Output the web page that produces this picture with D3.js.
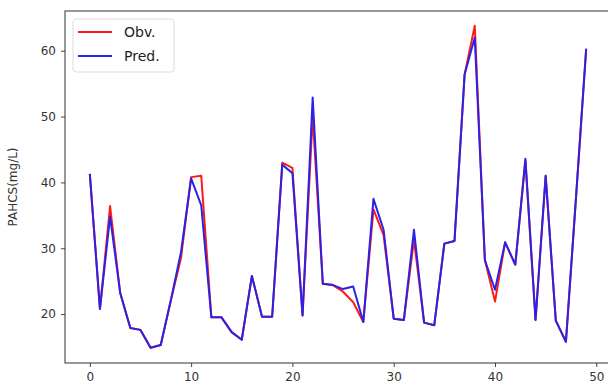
<!DOCTYPE html>
<html>
<head>
<meta charset="utf-8">
<script src="https://d3js.org/d3.v7.min.js"></script>
<style>
  body { margin: 0; background: #fff; }
  text { font-family: "DejaVu Sans", sans-serif; }
</style>
</head>
<body>
<svg id="chart" width="608" height="392"></svg>
<script>
// data (sample index 0..49)
var obv  = [41.3, 20.8, 36.4, 23.2, 17.9, 17.6, 14.9, 15.3, 22.1, 28.5,
            40.8, 41.0, 19.5, 19.5, 17.2, 16.1, 25.8, 19.6, 19.6, 43.0,
            42.2, 19.8, 50.0, 24.6, 24.4, 23.4, 21.8, 18.8, 35.9, 32.0,
            19.3, 19.1, 31.3, 18.7, 18.3, 30.7, 31.1, 56.4, 63.8, 28.2,
            21.9, 30.9, 27.5, 43.3, 19.1, 41.0, 19.0, 15.8, 37.8, 60.3];
var pred = [41.3, 20.8, 34.8, 23.2, 17.9, 17.6, 14.9, 15.3, 22.1, 29.4,
            40.6, 36.5, 19.5, 19.5, 17.3, 16.1, 25.8, 19.6, 19.6, 42.7,
            41.4, 19.8, 52.9, 24.6, 24.4, 23.8, 24.2, 18.8, 37.5, 32.8,
            19.3, 19.1, 32.8, 18.7, 18.3, 30.7, 31.1, 56.4, 62.0, 28.2,
            23.7, 30.9, 27.5, 43.6, 19.1, 41.0, 19.0, 15.8, 37.8, 60.3];
var xTicks = [0, 10, 20, 30, 40, 50];
var yTicks = [20, 30, 40, 50, 60];
var yLabel = "PAHCS(mg/L)";
var seriesNames = ["Obv.", "Pred."];
var seriesColors = ["#ff1a1a", "#2a22e6"];

var svg = d3.select("#chart");
var plot = {left: 65, right: 611, top: 11, bottom: 363};

var xScale = d3.scaleLinear().domain([-2.45, 51.45]).range([plot.left, plot.right]);
var yScale = d3.scaleLinear().domain([12.57, 66.03]).range([plot.bottom, plot.top]);

// axes
var xAxis = svg.append("g")
  .attr("transform", "translate(0," + plot.bottom + ")")
  .call(d3.axisBottom(xScale).tickValues(xTicks).tickSize(4).tickPadding(5).tickFormat(d3.format("d")));
var yAxis = svg.append("g")
  .attr("transform", "translate(" + plot.left + ",0)")
  .call(d3.axisLeft(yScale).tickValues(yTicks).tickSize(4).tickPadding(5).tickFormat(d3.format("d")));
[xAxis, yAxis].forEach(function(g) {
  g.select(".domain").remove();
  g.selectAll(".tick line").style("stroke", "#444").style("stroke-width", 1);
  g.selectAll(".tick text").style("font-size", "12px").style("fill", "#333")
   .style("font-family", "DejaVu Sans, sans-serif");
});

// lines
var line = d3.line()
  .x(function(d, i) { return xScale(i); })
  .y(function(d) { return yScale(d); });

[obv, pred].forEach(function(s, k) {
  svg.append("path").datum(s)
    .attr("d", line)
    .style("fill", "none")
    .style("stroke", seriesColors[k])
    .style("stroke-width", 2)
    .style("stroke-linejoin", "round");
});

// frame
svg.append("rect")
  .attr("x", plot.left).attr("y", plot.top)
  .attr("width", plot.right - plot.left).attr("height", plot.bottom - plot.top)
  .style("fill", "none").style("stroke", "#333").style("stroke-width", 1);

// y label
svg.append("text")
  .attr("transform", "translate(17," + ((plot.top + plot.bottom) / 2) + ") rotate(-90)")
  .attr("text-anchor", "middle")
  .style("font-size", "12px").style("fill", "#333")
  .text(yLabel);

// legend
var lg = svg.append("g").attr("transform", "translate(73,19)");
lg.append("rect").attr("width", 101).attr("height", 53).attr("rx", 3)
  .style("fill", "#fff").style("stroke", "#ddd").style("stroke-width", 1);
seriesNames.forEach(function(name, k) {
  var yy = 13 + k * 24;
  lg.append("line").attr("x1", 5).attr("x2", 39).attr("y1", yy).attr("y2", yy)
    .style("stroke", seriesColors[k]).style("stroke-width", 2);
  lg.append("text").attr("x", 51).attr("y", yy + 5)
    .style("font-size", "14px").style("fill", "#222")
    .text(name);
});
</script>
</body>
</html>
